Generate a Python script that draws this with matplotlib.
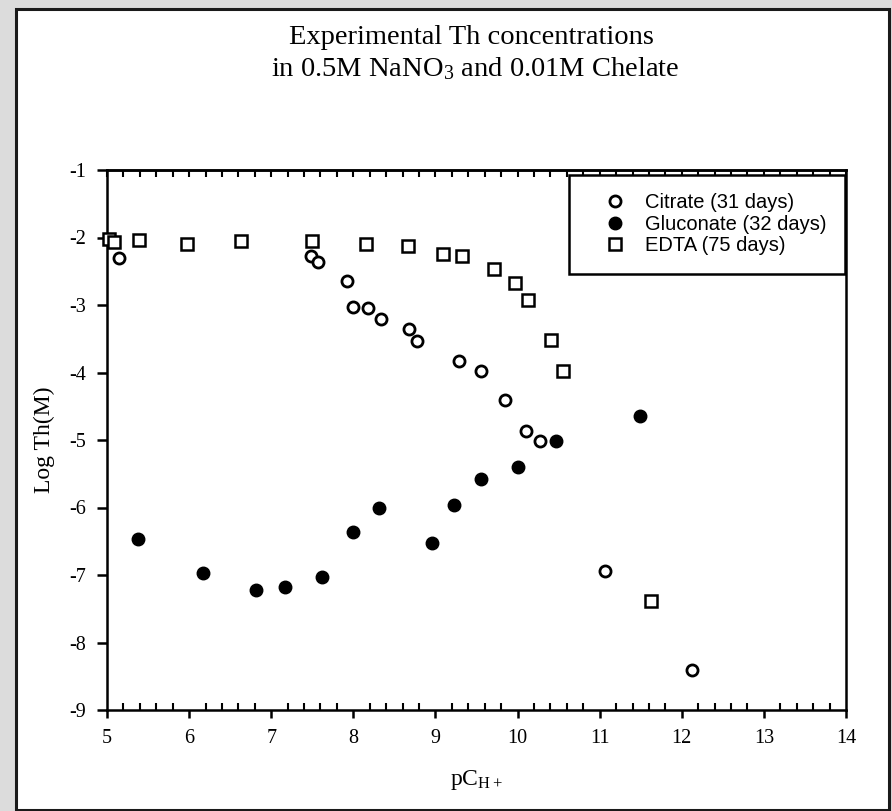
import matplotlib
matplotlib.use("Agg")
import matplotlib.pyplot as plt
from matplotlib.patches import Rectangle
from matplotlib.ticker import MultipleLocator, NullFormatter

plt.rcParams['mathtext.fontset'] = 'custom'
plt.rcParams['mathtext.rm'] = 'Liberation Serif'
plt.rcParams['mathtext.it'] = 'Liberation Serif'
plt.rcParams['mathtext.bf'] = 'Liberation Serif'
plt.rcParams['axes.unicode_minus'] = False

# ---- data ----
citrate_x = [5.15, 7.49, 7.57, 7.92, 7.99, 8.18, 8.34, 8.68, 8.77, 9.29, 9.55,
             9.85, 10.10, 10.27, 11.07, 12.13]
citrate_y = [-2.30, -2.28, -2.37, -2.64, -3.03, -3.05, -3.21, -3.35, -3.54, -3.83, -3.98,
             -4.40, -4.87, -5.01, -6.94, -8.41]

gluconate_x = [5.38, 6.17, 6.82, 7.17, 7.62, 7.99, 8.31, 8.96, 9.23, 9.55, 10.00,
               10.47, 11.49]
gluconate_y = [-6.47, -6.97, -7.22, -7.18, -7.03, -6.36, -6.01, -6.52, -5.96, -5.58, -5.40,
               -5.01, -4.65]

edta_x = [5.03, 5.08, 5.39, 5.97, 6.63, 7.50, 8.15, 8.67, 9.09, 9.32, 9.71, 9.97, 10.13,
          10.41, 10.55, 11.63]
edta_y = [-2.02, -2.07, -2.04, -2.09, -2.05, -2.05, -2.09, -2.13, -2.25, -2.28, -2.46, -2.68,
          -2.92, -3.52, -3.98, -7.39]

labels = ["Citrate (31 days)", "Gluconate (32 days)", "EDTA (75 days)"]
title_lines = ["Experimental Th concentrations", r"in 0.5M NaNO$_3$ and 0.01M Chelate"]
xlabel = r"pC$_{\mathrm{H+}}$"
ylabel = "Log Th(M)"

W, H = 892, 811
fig = plt.figure(figsize=(W / 100, H / 100), dpi=100)
fig.patch.set_facecolor('#dcdcdc')

# white panel with dark border (background axes)
bg = fig.add_axes([0, 0, 1, 1], zorder=-10)
bg.set_xlim(0, W)
bg.set_ylim(H, 0)
bg.axis('off')
bg.add_patch(Rectangle((16, 9), 889 - 16, 810 - 9, facecolor='white',
                       edgecolor='#1a1a1a', linewidth=2.2))

ax = fig.add_axes([107 / W, 1 - 710 / H, (846 - 107) / W, (710 - 170) / H], zorder=1)
ax.set_facecolor('white')
ax.set_xlim(5, 14)
ax.set_ylim(-9, -1)

serif = 'Liberation Serif'
sans = 'Liberation Sans'

l1, = ax.plot(citrate_x, citrate_y, linestyle='none', marker='o', markersize=8.0,
              markerfacecolor='white', markeredgecolor='black', markeredgewidth=2.0,
              label=labels[0], zorder=3, clip_on=False)
l2, = ax.plot(gluconate_x, gluconate_y, linestyle='none', marker='o', markersize=9.0,
              markerfacecolor='black', markeredgecolor='black', markeredgewidth=1.0,
              label=labels[1], zorder=3, clip_on=False)
l3, = ax.plot(edta_x, edta_y, linestyle='none', marker='s', markersize=8.5,
              markerfacecolor='white', markeredgecolor='black', markeredgewidth=1.8,
              label=labels[2], zorder=3, clip_on=False)

for s in ax.spines.values():
    s.set_linewidth(1.8)
    s.set_color('black')

ax.xaxis.set_major_locator(MultipleLocator(1))
ax.xaxis.set_minor_locator(MultipleLocator(0.2))
ax.yaxis.set_major_locator(MultipleLocator(1))
ax.tick_params(axis='x', which='major', direction='out', length=6, width=1.8,
               top=False, pad=8, labelsize=14.5)
ax.tick_params(axis='x', which='minor', direction='in', length=5, width=1.5, top=False)
ax.tick_params(axis='y', which='major', direction='out', length=7, width=1.8,
               right=False, pad=8, labelsize=14.5)
for lab in ax.get_xticklabels() + ax.get_yticklabels():
    lab.set_fontfamily(serif)

# top axis: inward ticks every 0.2 (including integer positions)
top = ax.secondary_xaxis('top')
top.xaxis.set_major_locator(MultipleLocator(0.2))
top.xaxis.set_major_formatter(NullFormatter())
top.tick_params(axis='x', which='major', direction='in', length=5, width=1.5)
top.spines['top'].set_linewidth(1.8)

ax.set_xlabel(xlabel, fontsize=17, family=serif, labelpad=14)
ax.set_ylabel(ylabel, fontsize=17, family=serif, labelpad=10)

fig.text(471 / W, 1 - 38 / H, title_lines[0], ha='center', va='center',
         fontsize=20.5, family=serif)
fig.text(475 / W, 1 - 69 / H, title_lines[1], ha='center', va='center',
         fontsize=20.5, family=serif)

leg = ax.legend(handles=[l1, l2, l3], loc='upper right',
                bbox_to_anchor=(0.9986, 0.9907), borderaxespad=0,
                frameon=True, fancybox=False, edgecolor='black', framealpha=1,
                prop={'family': sans, 'size': 14.5}, borderpad=0.9,
                handlelength=2.8, handletextpad=0.1, labelspacing=0.13)
leg.get_frame().set_linewidth(1.8)
leg.set_zorder(5)

fig.savefig('out.png', dpi=100, facecolor=fig.get_facecolor())
